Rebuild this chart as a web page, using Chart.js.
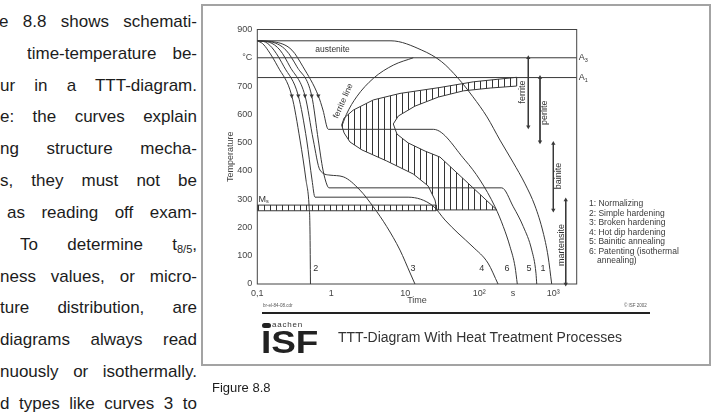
<!DOCTYPE html>
<html>
<head>
<meta charset="utf-8">
<title>TTT-Diagram With Heat Treatment Processes</title>
<script src="https://cdn.jsdelivr.net/npm/chart.js@4.4.1/dist/chart.umd.min.js"></script>
<style>
  html, body { margin: 0; padding: 0; background: #fff; }
  body { position: relative; width: 716px; height: 418px; overflow: hidden; font-family: 'Liberation Sans', Arial, Helvetica, sans-serif; }
  #page-text div { position: absolute; font-size: 17px; line-height: 20px; height: 20px; color: #1c1c1c; text-align: justify; text-align-last: justify; overflow: hidden; }
  #page-text sub { font-size: 11px; vertical-align: -3px; line-height: 0; }
  .frame { position: absolute; left: 201px; top: 4px; width: 510px; height: 362px; box-sizing: border-box; border: 2px solid #a3a3a3; }
  #ttt { position: absolute; left: 0; top: 0; }
  .legend { position: absolute; left: 589px; top: 199px; font-size: 8.5px; line-height: 9.5px; color: #3a3a3a; }
  .rule { position: absolute; left: 262px; top: 312px; width: 388px; height: 2px; background: #222; }
  .tiny { position: absolute; top: 303px; font-size: 4.5px; line-height: 5px; color: #555; }
  .dot { position: absolute; left: 262px; top: 323px; width: 9px; height: 4.5px; border-radius: 2.5px; background: #222; }
  .aachen { position: absolute; left: 272px; top: 320.5px; font-size: 8px; line-height: 8px; letter-spacing: 0.8px; color: #333; }
  .isf { position: absolute; left: 261px; top: 326.6px; font-size: 31px; line-height: 31px; font-weight: bold; color: #222; transform: scaleX(1.19); transform-origin: left top; }
  .title { position: absolute; left: 338px; top: 329px; font-size: 14px; line-height: 16px; color: #333; }
  .caption { position: absolute; left: 212px; top: 380px; font-size: 13px; line-height: 16px; color: #1c1c1c; }
</style>
</head>
<body>

<div id="page-text">
  <div style="top:12px;left:-1px;width:198px">e 8.8 shows schemati-</div>
  <div style="top:44px;left:27px;width:170px">time-temperature be-</div>
  <div style="top:76px;left:0;width:197px">ur in a TTT-diagram.</div>
  <div style="top:107px;left:0;width:197px">e: the curves explain</div>
  <div style="top:139px;left:0;width:197px">ng structure mecha-</div>
  <div style="top:171px;left:0;width:197px">s, they must not be</div>
  <div style="top:203px;left:7px;width:190px">as reading off exam-</div>
  <div style="top:235px;left:20px;width:177px">To determine t<sub>8/5</sub>,</div>
  <div style="top:267px;left:0;width:197px">ness values, or micro-</div>
  <div style="top:298px;left:0;width:197px">ture distribution, are</div>
  <div style="top:330px;left:0;width:197px">diagrams always read</div>
  <div style="top:362px;left:0;width:197px">nuously or isothermally.</div>
  <div style="top:394px;left:0;width:197px">d types like curves 3 to</div>
</div>

<div class="frame"></div>
<canvas id="ttt" width="716" height="418"></canvas>

<div class="legend">
  <div>1: Normalizing</div>
  <div>2: Simple hardening</div>
  <div>3: Broken hardening</div>
  <div>4: Hot dip hardening</div>
  <div>5: Bainitic annealing</div>
  <div>6: Patenting (isothermal</div>
  <div style="padding-left:8px">annealing)</div>
</div>

<div class="tiny" style="left:263px">br-el-84-08.cdr</div>
<div class="tiny" style="left:624px">&copy; ISF 2002</div>
<div class="rule"></div>
<div class="dot"></div>
<div class="aachen">aachen</div>
<div class="isf">ISF</div>
<div class="title">TTT-Diagram With Heat Treatment Processes</div>
<div class="caption">Figure 8.8</div>

<script>
// axes (time in s, temperature in °C)
var timeMin = 0.1, timeMax = 2070;
var timeTicks = [0.1, 1, 10, 100, 285, 1000];
var timeTickLabels = ['0,1', '1', '10', '10²', 's', '10³'];
var tempTicks = [0, 100, 200, 300, 400, 500, 600, 700, 800, 900];
var tempTickLabels = ['0', '100', '200', '300', '400', '500', '600', '700', '°C', '900'];

// transformation lines
var tempA3 = 800, tempA1 = 730;
var msTime = [0.1, 26, 26, 0.1, 0.1];
var msTemp = [279, 279, 259, 259, 279];

// heat treatment curves
var c1Time = [0.1, 6.4, 16.7, 31, 51.5, 82, 127, 190, 285, 415, 566, 726, 848, 951];
var c1Temp = [860, 860, 827, 786, 728, 662, 591, 509, 431, 354, 276, 184, 99, 0];
var c2Time = [0.1, 0.118, 0.139, 0.19, 0.292, 0.378, 0.455, 0.5, 0.515, 0.523];
var c2Temp = [860, 850, 827, 768, 666, 509, 368, 279, 191, 0];
var c3Time = [0.1, 0.145, 0.203, 0.277, 0.441, 0.571, 0.703, 0.96, 1.45, 2.44, 3.69, 5.61, 8.47, 11.6, 13.5];
var c3Temp = [860, 855, 827, 768, 666, 509, 403, 385, 379, 332, 273, 203, 120, 39, 0];
var c4Time = [0.1, 0.13, 0.168, 0.23, 0.358, 0.465, 0.549, 0.602, 10.9, 23.7, 34.4, 51.5, 82.2, 131, 179];
var c4Temp = [860, 855, 827, 768, 666, 509, 368, 307, 307, 276, 226, 180, 131, 74, 0];
var c5Time = [0.1, 0.16, 0.244, 0.344, 0.543, 0.667, 0.772, 0.875, 0.93, 201, 288, 393, 511, 583, 597];
var c5Temp = [860, 855, 827, 768, 666, 509, 403, 350, 340, 340, 273, 203, 120, 38, 0];
var c6Time = [0.1, 0.18, 0.294, 0.415, 0.667, 0.772, 0.911, 23.9, 64.1, 102, 163, 211, 260, 304, 326];
var c6Temp = [860, 855, 827, 768, 666, 615, 547, 547, 438, 368, 273, 203, 132, 61, 0];
var arrowTime = [0.292, 0.358, 0.441, 0.543, 0.667];
var arrowTemp = [666, 666, 666, 666, 666];

// ferrite line and transformation region (perlite / bainite)
var ferriteTime = [1.42, 1.6, 2.2, 3.69, 6.88, 12.8];
var ferriteTemp = [565, 600, 662, 727, 774, 800];
var zoneTime = [320, 83, 29.4, 8.48, 3.7, 1.98, 1.49, 1.38, 1.49, 1.79, 2.6, 5.61, 12.8, 20.3, 25.2, 26.8, 172, 74.9, 29.4, 18.5, 10.9, 7.72, 6.88, 8.04, 13.5, 27.9, 60.8, 140, 320, 320];
var zoneTemp = [731, 715, 695, 674, 651, 615, 587, 562, 534, 502, 474, 435, 389, 347, 297, 262, 262, 350, 449, 470, 499, 530, 566, 594, 629, 661, 683, 693, 700, 731];

// phase ranges on the right
var phaseNames = ['ferrite', 'perlite', 'bainite', 'martensite'];
var phaseTime = [459, 661, 1000, 1472];
var phaseFrom = [800, 730, 497, 297];
var phaseTo = [556, 503, 262, 0];

Chart.defaults.font.family = "'Liberation Sans', Arial, Helvetica, sans-serif";
Chart.defaults.font.size = 9;
Chart.defaults.color = '#444';

var ink = '#383838';

function pts(times, temps) {
    return times.map(function (t, i) { return { x: t, y: temps[i] }; });
}

function hatch(step) {
    var c = document.createElement('canvas');
    c.width = step;
    c.height = 8;
    var g = c.getContext('2d');
    g.fillStyle = '#333';
    g.fillRect(0, 0, 1, 8);
    return g.createPattern(c, 'repeat');
}

function curve(times, temps) {
    return {
        data: pts(times, temps),
        borderColor: ink,
        borderWidth: 1,
        pointRadius: 0,
        cubicInterpolationMode: 'monotone',
        fill: false
    };
}

var datasets = [
    curve(c1Time, c1Temp),
    curve(c2Time, c2Temp),
    curve(c3Time, c3Temp),
    curve(c4Time, c4Temp),
    curve(c5Time, c5Temp),
    curve(c6Time, c6Temp),
    curve(ferriteTime, ferriteTemp),
    {
        data: pts(arrowTime, arrowTemp),
        showLine: false,
        pointStyle: 'triangle',
        pointRadius: 2.5,
        pointRotation: 180,
        pointBackgroundColor: ink,
        pointBorderColor: ink,
        pointBorderWidth: 0
    },
    { data: pts([timeMin, timeMax], [tempA3, tempA3]), borderColor: ink, borderWidth: 1, pointRadius: 0 },
    { data: pts([timeMin, timeMax], [tempA1, tempA1]), borderColor: ink, borderWidth: 1, pointRadius: 0 }
];

phaseTime.forEach(function (t, i) {
    datasets.push({
        data: pts([t, t], [phaseFrom[i], phaseTo[i]]),
        borderColor: ink,
        borderWidth: 1,
        pointStyle: 'triangle',
        pointRadius: 2.5,
        pointRotation: [0, 180],
        pointBackgroundColor: ink,
        pointBorderColor: ink,
        pointBorderWidth: 0,
        clip: false
    });
});

datasets.push({
    data: pts(zoneTime, zoneTemp),
    borderColor: ink,
    borderWidth: 1,
    pointRadius: 0,
    tension: 0,
    fill: 'shape',
    backgroundColor: hatch(6)
});
datasets.push({
    data: pts(msTime, msTemp),
    borderColor: ink,
    borderWidth: 1,
    pointRadius: 0,
    tension: 0,
    fill: 'shape',
    backgroundColor: hatch(6)
});

// plot box, labels on the curves, A3/A1, Ms
var annotate = {
    id: 'annotate',
    beforeDatasetsDraw: function (chart) {
        var a = chart.chartArea, ctx = chart.ctx;
        ctx.save();
        ctx.strokeStyle = '#444';
        ctx.lineWidth = 1;
        ctx.strokeRect(a.left, a.top, a.right - a.left, a.bottom - a.top);
        ctx.restore();
    },
    afterDatasetsDraw: function (chart) {
        var ctx = chart.ctx, sx = chart.scales.x, sy = chart.scales.y, a = chart.chartArea;
        function put(s, t, v, rot, size) {
            ctx.save();
            ctx.font = (size || 9) + "px 'Liberation Sans', Arial, sans-serif";
            ctx.translate(sx.getPixelForValue(t), sy.getPixelForValue(v));
            if (rot) ctx.rotate(rot * Math.PI / 180);
            ctx.fillText(s, 0, 0);
            ctx.restore();
        }
        ctx.save();
        ctx.fillStyle = '#333';
        ctx.textAlign = 'center';
        ctx.textBaseline = 'middle';

        put('austenite', 1.04, 827, 0, 8.5);
        put('ferrite line', 1.45, 647, -66, 8.5);
        [['2', 0.615], ['3', 12.7], ['4', 108], ['6', 237], ['5', 470], ['1', 726]].forEach(function (n) {
            put(n[0], n[1], 55.5);
        });
        put(phaseNames[0], 389, 679, -90);
        put(phaseNames[1], 760, 606, -90);
        put(phaseNames[2], 1169, 382, -90);
        put(phaseNames[3], 1279, 138, -90);

        // subscripted labels
        ctx.textAlign = 'left';
        function sub(main, small, px, py) {
            ctx.font = "9px 'Liberation Sans', Arial, sans-serif";
            ctx.fillText(main, px, py);
            var w = ctx.measureText(main).width;
            ctx.font = "5.5px 'Liberation Sans', Arial, sans-serif";
            ctx.fillText(small, px + w, py + 2.5);
        }
        sub('A', '3', a.right + 2, sy.getPixelForValue(tempA3));
        sub('A', '1', a.right + 2, sy.getPixelForValue(tempA1));
        sub('M', 's', sx.getPixelForValue(0.104), sy.getPixelForValue(300));
        ctx.restore();
    }
};

var ctx = document.getElementById('ttt').getContext('2d');
var tttChart = new Chart(ctx, {
    type: 'line',
    data: { datasets: datasets },
    options: {
        responsive: false,
        animation: false,
        layout: {
            autoPadding: false,
            padding: { left: 217.3, right: 139.3, top: 29.5, bottom: 112 }
        },
        plugins: {
            legend: { display: false },
            tooltip: { enabled: false }
        },
        scales: {
            x: {
                type: 'logarithmic',
                min: timeMin,
                max: timeMax,
                afterBuildTicks: function (s) {
                    s.ticks = timeTicks.map(function (v) { return { value: v }; });
                },
                afterFit: function (s) { s.height = 22; },
                grid: { display: false, drawTicks: false },
                border: { display: false },
                ticks: {
                    autoSkip: false,
                    maxRotation: 0,
                    padding: 4,
                    color: '#444',
                    callback: function (v, i) { return timeTickLabels[i]; }
                },
                title: { display: true, text: 'Time', color: '#444', padding: { top: 0, bottom: 0 } }
            },
            y: {
                min: 0,
                max: 900,
                afterBuildTicks: function (s) {
                    s.ticks = tempTicks.map(function (v) { return { value: v }; });
                },
                afterFit: function (s) { s.width = 40; },
                grid: { display: false, drawTicks: false },
                border: { display: false },
                ticks: {
                    autoSkip: false,
                    padding: 5,
                    color: '#444',
                    callback: function (v, i) { return tempTickLabels[i]; }
                },
                title: { display: true, text: 'Temperature', color: '#444', padding: { top: 8, bottom: 0 } }
            }
        }
    },
    plugins: [annotate]
});
</script>
</body>
</html>
